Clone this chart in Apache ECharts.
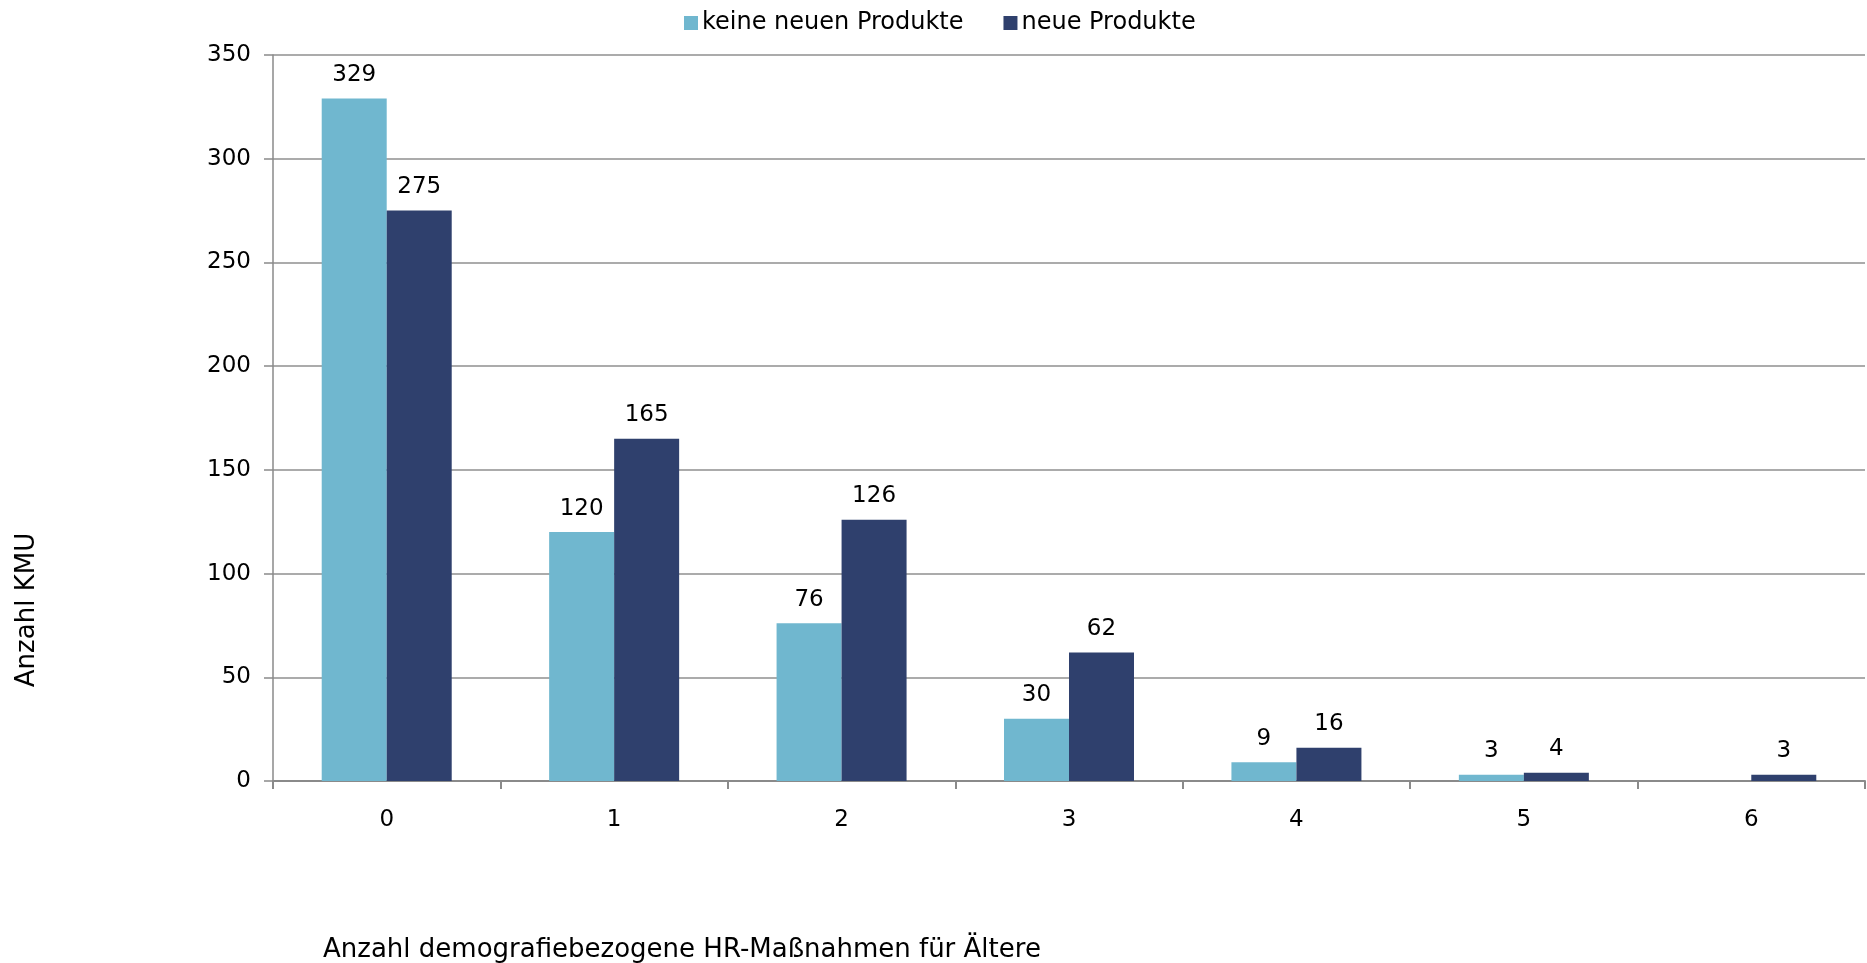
<!DOCTYPE html>
<html>
<head>
<meta charset="utf-8">
<script src="https://cdn.jsdelivr.net/npm/echarts@6/dist/echarts.min.js"></script>
<style>html,body{margin:0;padding:0;background:#fff}#c{width:1867px;height:963px}</style>
</head>
<body>
<div id="c"></div>
<script>
var categories = ['0', '1', '2', '3', '4', '5', '6'];
var keineNeuenProdukte = [329, 120, 76, 30, 9, 3, null];
var neueProdukte = [275, 165, 126, 62, 16, 4, 3];
var seriesNames = ['keine neuen Produkte', 'neue Produkte'];
var yTicks = {min: 0, max: 350, interval: 50};
var xTitle = 'Anzahl demografiebezogene HR-Maßnahmen für Ältere';
var yTitle = 'Anzahl KMU';

var FONT = 'DejaVu Sans';
var chart = echarts.init(document.getElementById('c'));
var labelCfg = {show: true, position: 'top', distance: 12, color: '#000', fontFamily: FONT, fontSize: 23};
chart.setOption({
  animation: false,
  backgroundColor: '#fff',
  grid: {left: 273, right: 2, top: 55, bottom: 182, containLabel: false},
  legend: {
    top: 6, left: 679,
    itemWidth: 14, itemHeight: 14, itemGap: 40,
    icon: 'rect',
    textStyle: {fontFamily: FONT, fontSize: 24, color: '#000', padding: [0, 0, 0, -1]},
    data: seriesNames
  },
  xAxis: {
    type: 'category',
    data: categories,
    axisLine: {lineStyle: {color: '#8a8a8a', width: 2}},
    axisTick: {show: true, length: 8, lineStyle: {color: '#8a8a8a', width: 2}},
    axisLabel: {color: '#000', fontFamily: FONT, fontSize: 23, margin: 28}
  },
  yAxis: {
    type: 'value',
    min: yTicks.min, max: yTicks.max, interval: yTicks.interval,
    axisLine: {show: true, lineStyle: {color: '#8a8a8a', width: 1.5}},
    axisTick: {show: true, length: 9, lineStyle: {color: '#8a8a8a', width: 1.5}},
    axisLabel: {color: '#000', fontFamily: FONT, fontSize: 23, margin: 22},
    splitLine: {lineStyle: {color: '#8f8f8f', width: 1.5}}
  },
  series: [
    {name: seriesNames[0], type: 'bar', data: keineNeuenProdukte, barWidth: 65, barGap: '0%',
     itemStyle: {color: '#70B7CF'}, label: labelCfg},
    {name: seriesNames[1], type: 'bar', data: neueProdukte, barWidth: 65, barGap: '0%',
     itemStyle: {color: '#2F406D'}, label: labelCfg}
  ],
  graphic: [
    {type: 'text', x: 323, y: 950,
     style: {text: xTitle, font: '26px "DejaVu Sans"', fill: '#000', textAlign: 'left', textVerticalAlign: 'middle', align: 'left', verticalAlign: 'middle'}},
    {type: 'text', x: 27, y: 610, rotation: Math.PI / 2,
     style: {text: yTitle, font: '26px "DejaVu Sans"', fill: '#000', textAlign: 'center', textVerticalAlign: 'middle', align: 'center', verticalAlign: 'middle'}}
  ]
});
</script>
</body>
</html>
